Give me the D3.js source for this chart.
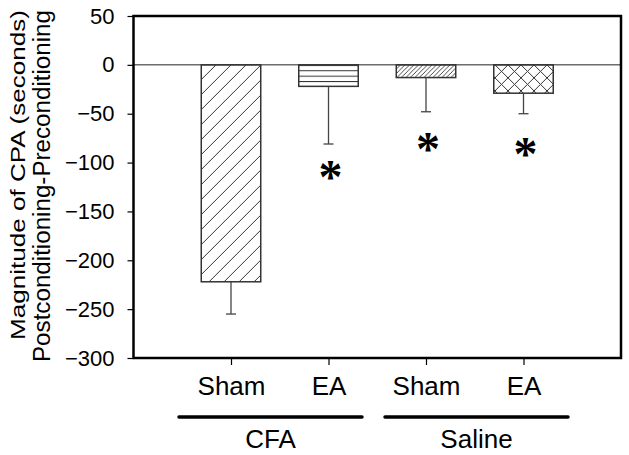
<!DOCTYPE html>
<html><head><meta charset="utf-8">
<script src="https://cdn.jsdelivr.net/npm/d3@7"></script>
<style>body{margin:0;background:#fff}svg{display:block}</style>
</head><body><div id="chart"></div>
<script>
const categories = ["CFA Sham", "CFA EA", "Saline Sham", "Saline EA"];
const barLabels = ["Sham", "EA", "Sham", "EA"];
const groups = ["CFA", "Saline"];
const groupOf = [0, 0, 1, 1];
const means = [-222, -22, -13, -29];
const errLow = [-255, -81, -48, -50];
const starAt = [null, -108, -79, -84];
const patterns = ["diagWide", "horiz", "diagFine", "cross"];
const yTicks = [50, 0, -50, -100, -150, -200, -250, -300];

const W = 629, H = 455;
const m = {left: 133.5, right: 621, top: 16, bottom: 358};
const svg = d3.select("#chart").append("svg").attr("width", W).attr("height", H);
const font = "'Liberation Sans', Arial, sans-serif";

const y = d3.scaleLinear().domain([-300, 50]).range([m.bottom, m.top]);
const x = d3.scalePoint().domain(categories).range([m.left, m.right]).padding(1);
const step = x.step();
const bw = step * 0.61;

// patterns
const defs = svg.append("defs");
const pc = "#333";
let p = defs.append("pattern").attr("id", "diagWide").attr("patternUnits", "userSpaceOnUse")
  .attr("width", 15).attr("height", 15).attr("x", 201).attr("y", y(0));
p.append("path").attr("d", "M-1,1 L1,-1 M0,15 L15,0 M14,16 L16,14").attr("stroke", pc).attr("stroke-width", 1);
p = defs.append("pattern").attr("id", "horiz").attr("patternUnits", "userSpaceOnUse")
  .attr("width", 10).attr("height", 5.4).attr("y", y(0));
p.append("path").attr("d", "M0,0.5 L10,0.5").attr("stroke", pc).attr("stroke-width", 1);
p = defs.append("pattern").attr("id", "diagFine").attr("patternUnits", "userSpaceOnUse")
  .attr("width", 4.5).attr("height", 4.5).attr("y", y(0));
p.append("path").attr("d", "M-1,1 L1,-1 M0,4.5 L4.5,0 M3.5,5.5 L5.5,3.5").attr("stroke", pc).attr("stroke-width", 0.9);
p = defs.append("pattern").attr("id", "cross").attr("patternUnits", "userSpaceOnUse")
  .attr("width", 13).attr("height", 13).attr("x", 495).attr("y", y(0));
p.append("path").attr("d", "M0,0 L13,13 M0,13 L13,0").attr("stroke", pc).attr("stroke-width", 1);

// zero line
svg.append("line").attr("x1", m.left).attr("x2", m.right).attr("y1", y(0)).attr("y2", y(0))
  .attr("stroke", "#222").attr("stroke-width", 1);

// bars
const idx = d3.range(categories.length);
svg.selectAll("rect.bar").data(idx).join("rect").attr("class", "bar")
  .attr("x", i => x(categories[i]) - bw / 2).attr("width", bw)
  .attr("y", i => y(Math.max(0, means[i])))
  .attr("height", i => Math.abs(y(means[i]) - y(0)))
  .attr("fill", i => `url(#${patterns[i]})`)
  .attr("stroke", "#333").attr("stroke-width", 1.5);

// error bars
const eg = svg.append("g").attr("stroke", "#444").attr("stroke-width", 1.3);
eg.selectAll("line.v").data(idx).join("line")
  .attr("x1", i => x(categories[i])).attr("x2", i => x(categories[i]))
  .attr("y1", i => y(means[i])).attr("y2", i => y(errLow[i]));
eg.selectAll("line.c").data(idx).join("line")
  .attr("x1", i => x(categories[i]) - 5).attr("x2", i => x(categories[i]) + 5)
  .attr("y1", i => y(errLow[i])).attr("y2", i => y(errLow[i]));

// stars
svg.selectAll("text.star").data(idx.filter(i => starAt[i] !== null)).join("text")
  .attr("x", i => x(categories[i]) + 2).attr("y", i => y(starAt[i]) + 23)
  .attr("text-anchor", "middle").attr("font-family", "'Liberation Serif', 'Times New Roman', serif")
  .attr("font-weight", "bold").attr("font-size", 48).attr("fill", "#000").text("*");

// y axis
const yAxis = svg.append("g").attr("transform", `translate(${m.left},0)`)
  .call(d3.axisLeft(y).tickValues(yTicks).tickSize(6).tickPadding(13));
yAxis.select(".domain").remove();
yAxis.selectAll(".tick line").attr("stroke", "#000").attr("stroke-width", 1.2);
yAxis.selectAll(".tick text").attr("font-family", font).attr("font-size", 22).attr("fill", "#000");

// x axis ticks & labels
const xAxis = svg.append("g").attr("transform", `translate(0,${m.bottom})`)
  .call(d3.axisBottom(x).tickSize(7).tickPadding(12).tickFormat((d, i) => barLabels[i]));
xAxis.select(".domain").remove();
xAxis.selectAll(".tick line").attr("stroke", "#000").attr("stroke-width", 1.2);
xAxis.selectAll(".tick text").attr("font-family", font).attr("font-size", 26).attr("fill", "#000");

// frame
svg.append("rect").attr("x", m.left).attr("y", m.top).attr("width", m.right - m.left)
  .attr("height", m.bottom - m.top).attr("fill", "none").attr("stroke", "#000").attr("stroke-width", 2.5);

// group lines
const gExt = [[-52, 33.5], [-41, 44.5]];
groups.forEach((g, gi) => {
  const members = categories.filter((c, i) => groupOf[i] === gi);
  const x1 = x(members[0]) + gExt[gi][0], x2 = x(members[members.length - 1]) + gExt[gi][1];
  svg.append("line").attr("x1", x1).attr("x2", x2).attr("y1", 417).attr("y2", 417)
    .attr("stroke", "#000").attr("stroke-width", 3.5).attr("stroke-linecap", "round");
  svg.append("text").attr("x", (x1 + x2) / 2).attr("y", 448).attr("text-anchor", "middle")
    .attr("font-family", font).attr("font-size", 26).attr("fill", "#000").text(g);
});

// y title
svg.append("text").attr("transform", "translate(25,175) rotate(-90)")
  .attr("text-anchor", "middle").attr("font-family", font).attr("font-size", 21)
  .attr("textLength", 330).attr("lengthAdjust", "spacingAndGlyphs").attr("fill", "#000")
  .text("Magnitude of CPA (seconds)");
svg.append("text").attr("transform", "translate(50,186) rotate(-90)")
  .attr("text-anchor", "middle").attr("font-family", font).attr("font-size", 23)
  .attr("textLength", 352).attr("lengthAdjust", "spacingAndGlyphs").attr("fill", "#000")
  .text("Postconditioning-Preconditioning");
</script></body></html>
